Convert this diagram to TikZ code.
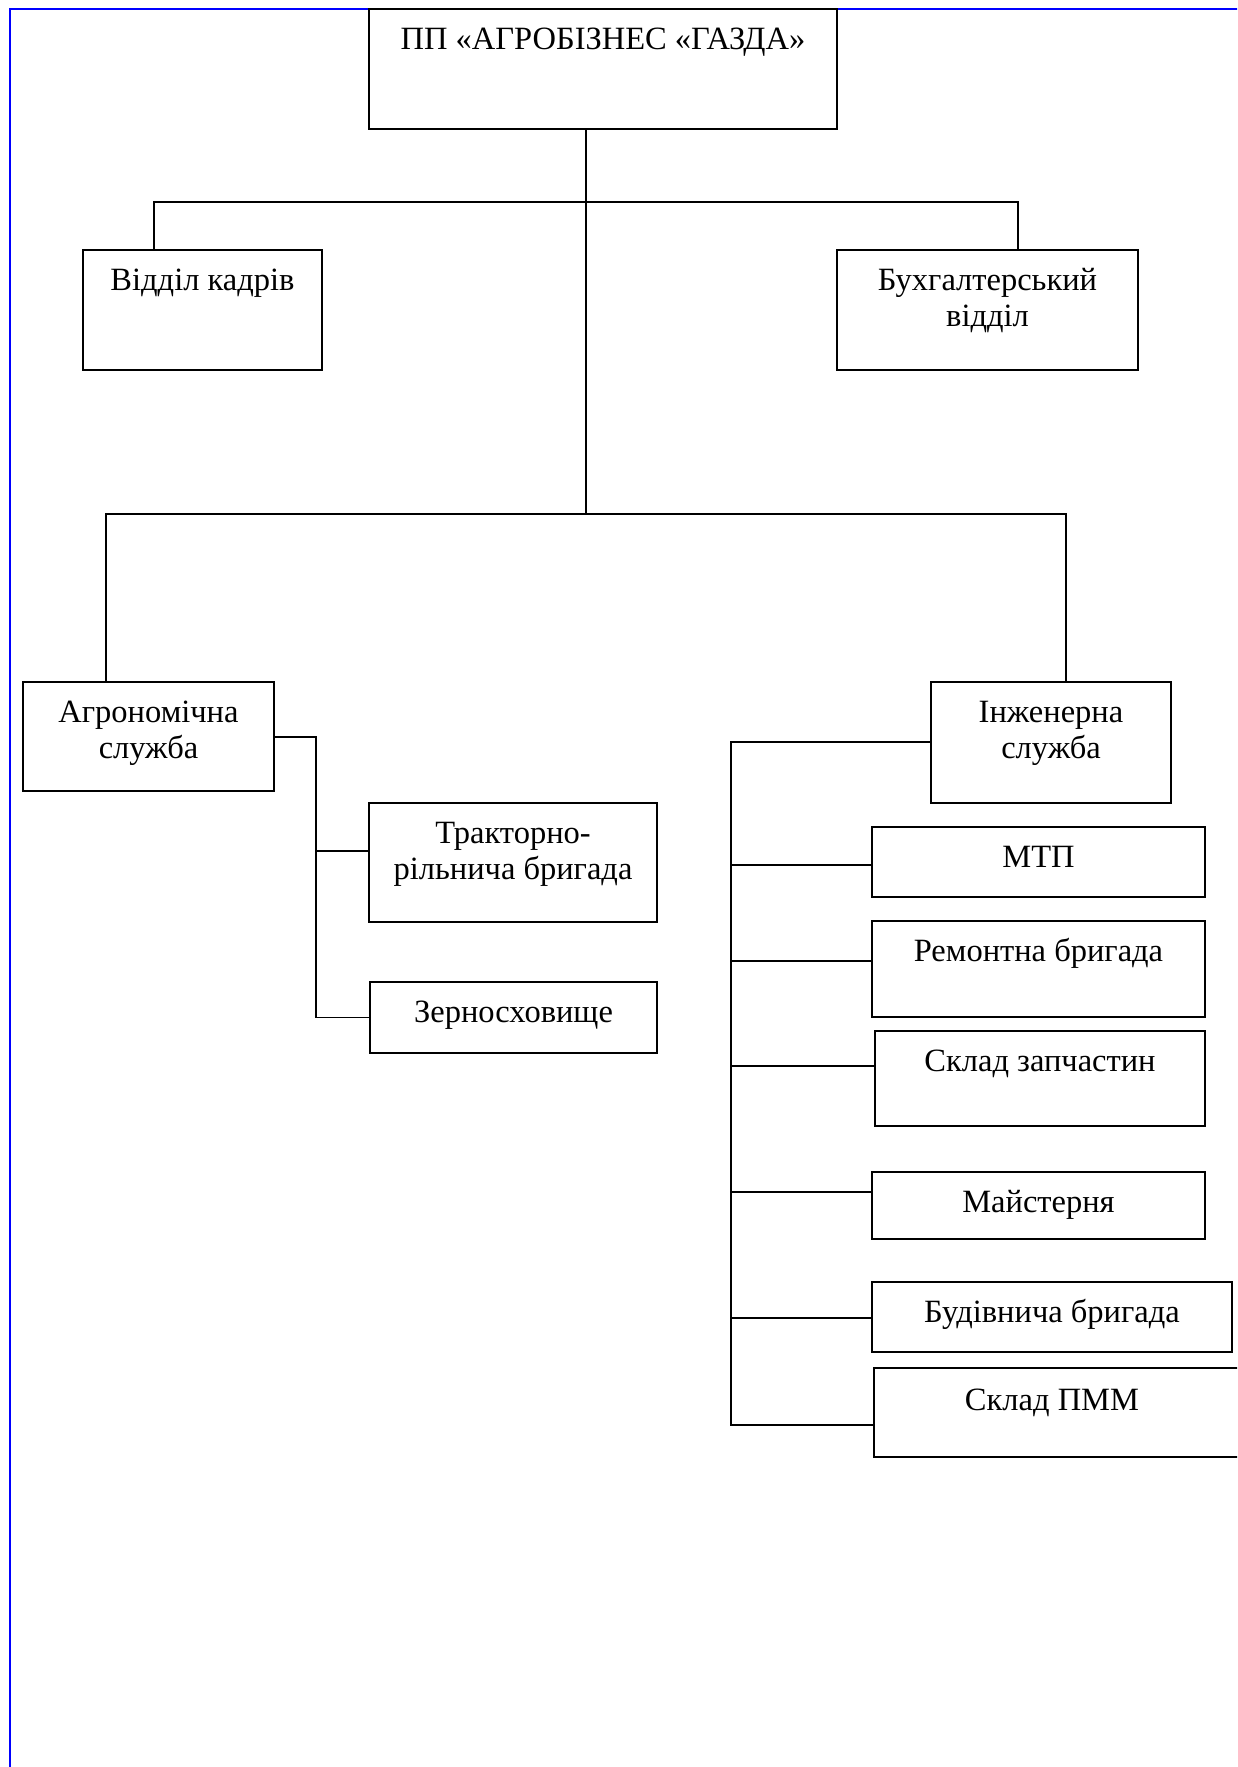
\documentclass[tikz,border=0pt]{standalone}
\usepackage{fontspec}
\setmainfont{Liberation Serif}
\newcommand{\twoline}[2]{\parbox[t]{420pt}{\centering #1\\#2}}
\begin{document}
\begin{tikzpicture}[x=1pt,y=-1pt,
  orgbox/.style={draw, line width=1.6pt, inner sep=0pt, fill=white},
  lbl/.style={anchor=base, inner sep=0pt, font=\fontsize{32.5}{36.5}\selectfont},
  conn/.style={line width=1.6pt},
  frameline/.style={draw=blue, line width=2pt}]
\useasboundingbox (0,0) rectangle (1237,1767);
\clip (0,0) rectangle (1237,1767);
% blue page frame
\coordinate (fTR) at (1245,9.3);
\coordinate (fTL) at (9.5,9.3);
\coordinate (fBL) at (9.5,1775);
\draw[frameline] (fTR) -- (fTL) -- (fBL);
% box helper
\newcommand{\orgnode}[5]{%
  \node[orgbox, minimum width={(#4-#2)*1pt}, minimum height={(#5-#3)*1pt}]
    (#1) at ({(#2+#4)/2},{(#3+#5)/2}) {};}
\orgnode{top}{369}{9}{837}{129}
\orgnode{kadry}{83}{250}{322}{370}
\orgnode{buh}{837}{250}{1138}{370}
\orgnode{agro}{23}{682}{274}{791}
\orgnode{inzh}{931}{682}{1171}{803}
\orgnode{trakt}{369}{803}{657}{922}
\orgnode{zerno}{370}{982}{657}{1053}
\orgnode{mtp}{872}{827}{1205}{897}
\orgnode{remont}{872}{921}{1205}{1017}
\orgnode{sklad}{875}{1031}{1205}{1126}
\orgnode{maist}{872}{1172}{1205}{1239}
\orgnode{budiv}{872}{1282}{1232}{1352}
\orgnode{pmm}{874}{1368}{1262}{1457}
% texts
\node[lbl] (ttop) at ([yshift=-41pt]top.north) {ПП «АГРОБІЗНЕС «ГАЗДА»};
\node[lbl] (tkadry) at ([yshift=-41pt]kadry.north) {Відділ кадрів};
\node[lbl] (tbuh) at ([yshift=-41pt]buh.north) {\twoline{Бухгалтерський}{відділ}};
\node[lbl] (tagro) at ([yshift=-41pt]agro.north) {\twoline{Агрономічна}{служба}};
\node[lbl] (tinzh) at ([yshift=-41pt]inzh.north) {\twoline{Інженерна}{служба}};
\node[lbl] (ttrakt) at ([yshift=-41pt]trakt.north) {\twoline{Тракторно-}{рільнича бригада}};
\node[lbl] (tzerno) at ([yshift=-41pt]zerno.north) {Зерносховище};
\node[lbl] (tmtp) at ([yshift=-41pt]mtp.north) {МТП};
\node[lbl] (tremont) at ([yshift=-41pt]remont.north) {Ремонтна бригада};
\node[lbl] (tsklad) at ([yshift=-41pt]sklad.north) {Склад запчастин};
\node[lbl] (tmaist) at ([yshift=-41pt]maist.north) {Майстерня};
\node[lbl] (tbudiv) at ([yshift=-41pt]budiv.north) {Будівнича бригада};
\node[lbl] (tpmm) at (1052,1410) {Склад ПММ};
% junction coordinates
\coordinate (j1) at (586,202);
\coordinate (j2) at (586,514);
\coordinate (kL) at (154,202);
\coordinate (bR) at (1018,202);
\coordinate (aL) at (106,514);
\coordinate (iR) at (1066,514);
\coordinate (aB) at (316,737);
\coordinate (tB) at (316,851);
\coordinate (iB) at (731,742);
\coordinate (iEnd) at (731,1425);
% connectors
\draw[conn] (top.south -| j1) -- (j2);
\draw[conn] (kadry.north -| kL) -- (kL) -- (bR) -- (buh.north -| bR);
\draw[conn] (agro.north -| aL) -- (aL) -- (iR) -- (inzh.north -| iR);
\draw[conn] (agro.east |- aB) -- (aB) -- (aB |- zerno.west) -- (zerno.west);
\draw[conn] (tB) -- (trakt.west |- tB);
\draw[conn] (inzh.west |- iB) -- (iB) -- (iEnd) -- (pmm.west |- iEnd);
\draw[conn] (iB |- 0,865) -- (mtp.west |- 0,865);
\draw[conn] (iB |- 0,961) -- (remont.west |- 0,961);
\draw[conn] (iB |- 0,1066) -- (sklad.west |- 0,1066);
\draw[conn] (iB |- 0,1192) -- (maist.west |- 0,1192);
\draw[conn] (iB |- 0,1318) -- (budiv.west |- 0,1318);
\end{tikzpicture}
\end{document}
